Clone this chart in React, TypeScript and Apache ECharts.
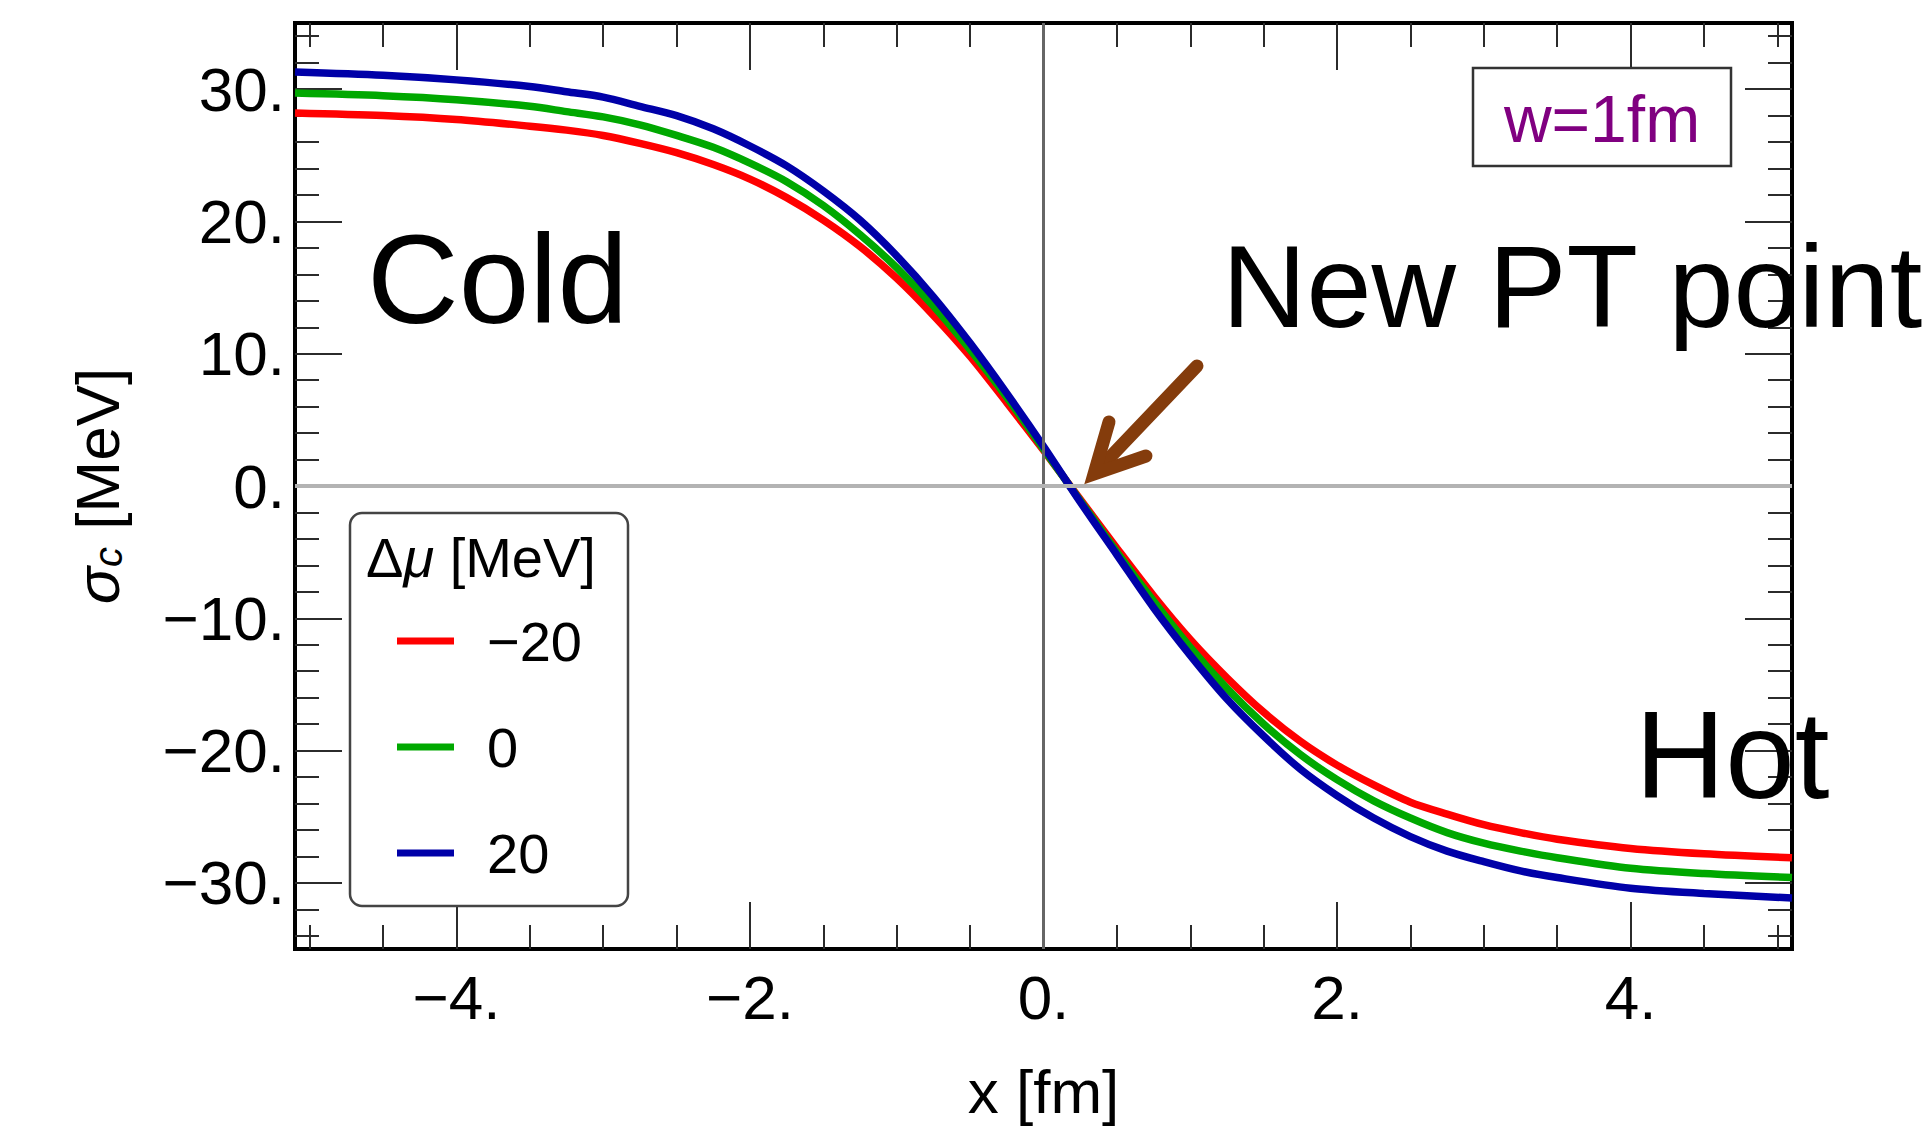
import React, { useEffect, useRef } from 'react';
import * as echarts from 'echarts';

// x positions [fm]
const X_FM = [-5.1, -4.5, -4, -3.5, -3.25, -3, -2.75, -2.5, -2.25, -2, -1.75, -1.5, -1.25, -1, -0.75, -0.5, -0.25, 0, 0.25, 0.5, 0.75, 1, 1.25, 1.5, 1.75, 2, 2.25, 2.5, 2.75, 3, 3.25, 3.5, 4, 4.5, 5.1];
// sigma_c [MeV] for each delta-mu
const SIGMA_DMU_M20 = [28.2, 28.0, 27.7, 27.2, 26.9, 26.5, 25.9, 25.2, 24.3, 23.2, 21.8, 20.1, 18.1, 15.7, 12.9, 9.8, 6.3, 2.7, -1.0, -4.7, -8.3, -11.6, -14.5, -17.1, -19.3, -21.1, -22.6, -23.9, -24.8, -25.6, -26.2, -26.7, -27.4, -27.8, -28.1];
const SIGMA_DMU_0 = [29.7, 29.5, 29.2, 28.7, 28.3, 27.9, 27.3, 26.5, 25.6, 24.4, 23.0, 21.2, 19.0, 16.5, 13.6, 10.3, 6.7, 2.8, -1.1, -5.0, -8.7, -12.2, -15.3, -18.0, -20.3, -22.2, -23.8, -25.1, -26.2, -27.0, -27.6, -28.1, -28.9, -29.3, -29.6];
const SIGMA_DMU_P20 = [31.3, 31.05, 30.7, 30.2, 29.8, 29.4, 28.7, 28.0, 27.0, 25.7, 24.2, 22.3, 20.1, 17.4, 14.3, 10.8, 7.0, 3.0, -1.2, -5.2, -9.2, -12.8, -16.1, -18.9, -21.4, -23.4, -25.1, -26.5, -27.6, -28.4, -29.1, -29.6, -30.4, -30.8, -31.15];

const SERIES_NAMES = ['\u221220', '0', '20'];
const SERIES_COLORS = ['#ff0000', '#00a800', '#0000a8'];

const X_MAJOR_TICKS = [-4, -2, 0, 2, 4];
const X_MINOR_TICKS = [-5, -4.5, -3.5, -3, -2.5, -1.5, -1, -0.5, 0.5, 1, 1.5, 2.5, 3, 3.5, 4.5, 5];
const Y_MAJOR_TICKS = [-30, -20, -10, 0, 10, 20, 30];
const Y_MINOR_TICKS = [-34, -32, -28, -26, -24, -22, -18, -16, -14, -12, -8, -6, -4, -2, 2, 4, 6, 8, 12, 14, 16, 18, 22, 24, 26, 28, 32, 34];

const FONT = '"Liberation Sans", Arial, Helvetica, sans-serif';
const fmt = (v: number) => (v < 0 ? '\u2212' + Math.abs(v) : String(v)) + '.';

const TICK_STYLE = { color: '#2b2b2b', width: 2 };
const ARROW_COLOR = '#843c0c';

function makeAxis(min: number, max: number, position: string, ticks: number[], len: number, extra: any = {}) {
  return {
    type: 'value',
    min,
    max,
    position,
    splitLine: { show: false },
    axisLine: { show: false, onZero: false },
    axisTick: { show: true, inside: true, length: len, lineStyle: TICK_STYLE, customValues: ticks },
    axisLabel: { show: false },
    ...extra,
  };
}

export default function App() {
  const ref = useRef<HTMLDivElement>(null);

  useEffect(() => {
    document.body.style.margin = '0';
    document.body.style.overflow = 'hidden';
    if (!ref.current) return;
    const chart = echarts.init(ref.current, null, { renderer: 'svg' });

    const curveData = [SIGMA_DMU_M20, SIGMA_DMU_0, SIGMA_DMU_P20];

    const option: any = {
      animation: false,
      backgroundColor: '#ffffff',
      grid: {
        left: 295,
        right: 133,
        top: 23,
        bottom: 181,
        show: true,
        borderColor: '#000',
        borderWidth: 4,
        backgroundColor: 'transparent',
        containLabel: false,
        outerBoundsMode: 'none',
      },
      xAxis: [
        makeAxis(-5.1, 5.1, 'bottom', X_MAJOR_TICKS, 47, {
          axisLabel: {
            show: true,
            customValues: X_MAJOR_TICKS,
            formatter: fmt,
            margin: 17,
            fontSize: 62,
            color: '#000',
            fontFamily: FONT,
          },
          name: 'x [fm]',
          nameLocation: 'middle',
          nameGap: 111,
          nameTextStyle: { fontSize: 62, color: '#000', fontFamily: FONT },
        }),
        makeAxis(-5.1, 5.1, 'bottom', X_MINOR_TICKS, 24),
        makeAxis(-5.1, 5.1, 'top', X_MAJOR_TICKS, 47),
        makeAxis(-5.1, 5.1, 'top', X_MINOR_TICKS, 24),
      ],
      yAxis: [
        makeAxis(-35, 35, 'left', Y_MAJOR_TICKS, 47, {
          axisLabel: {
            show: true,
            customValues: Y_MAJOR_TICKS,
            formatter: fmt,
            margin: 10,
            fontSize: 62,
            color: '#000',
            fontFamily: FONT,
          },
          name: '{s|\u03c3}{c|c} [MeV]',
          nameLocation: 'middle',
          nameRotate: 90,
          nameGap: 167,
          nameTextStyle: {
            fontSize: 62,
            color: '#000',
            fontFamily: FONT,
            rich: {
              s: { fontSize: 62, fontStyle: 'italic', fontFamily: FONT, color: '#000' },
              c: { fontSize: 40, fontStyle: 'italic', fontFamily: FONT, color: '#000', verticalAlign: 'bottom', lineHeight: 30 },
            },
          },
        }),
        makeAxis(-35, 35, 'left', Y_MINOR_TICKS, 24),
        makeAxis(-35, 35, 'right', Y_MAJOR_TICKS, 47),
        makeAxis(-35, 35, 'right', Y_MINOR_TICKS, 24),
      ],
      legend: {
        data: SERIES_NAMES,
        orient: 'vertical',
        left: 350,
        top: 513,
        icon: 'rect',
        itemWidth: 57,
        itemHeight: 7,
        itemGap: 46,
        padding: [98, 46, 23, 47],
        borderColor: '#444',
        borderWidth: 2.5,
        borderRadius: 12,
        backgroundColor: '#fff',
        selectedMode: false,
        textStyle: { fontSize: 56, fontFamily: FONT, color: '#000', lineHeight: 60, padding: [0, 0, 0, 28] },
      },
      series: [
        {
          type: 'line',
          name: 'axes0',
          data: [[0, 0]],
          symbol: 'none',
          lineStyle: { opacity: 0 },
          silent: true,
          z: 1,
          markLine: {
            silent: true,
            symbol: ['none', 'none'],
            label: { show: false },
            data: [
              { xAxis: 0, lineStyle: { color: '#666', width: 3, type: 'solid' } },
              { yAxis: 0, lineStyle: { color: '#b3b3b3', width: 4, type: 'solid' } },
            ],
          },
        },
        ...SERIES_NAMES.map((name, i) => ({
          type: 'line',
          name,
          data: X_FM.map((x, j) => [x, curveData[i][j]]),
          symbol: 'none',
          smooth: 0.3,
          clip: true,
          z: 3,
          lineStyle: { color: SERIES_COLORS[i], width: 7.5 },
          itemStyle: { color: SERIES_COLORS[i] },
        })),
      ],
      graphic: [
        {
          type: 'text',
          x: 366,
          y: 557,
          z: 20,
          style: {
            text: '{r|\u0394}{i|\u03bc}{r| [MeV]}',
            align: 'left',
            verticalAlign: 'middle',
            rich: {
              r: { fontSize: 56, fontFamily: FONT, fill: '#000' },
              i: { fontSize: 56, fontFamily: FONT, fontStyle: 'italic', fill: '#000' },
            },
          },
        },
        {
          type: 'text',
          x: 367,
          y: 279,
          z: 20,
          style: { text: 'Cold', fontSize: 127, fontFamily: FONT, fill: '#000', align: 'left', verticalAlign: 'middle' },
        },
        {
          type: 'text',
          x: 1635,
          y: 754,
          z: 20,
          style: { text: 'Hot', fontSize: 125, fontFamily: FONT, fill: '#000', align: 'left', verticalAlign: 'middle' },
        },
        {
          type: 'text',
          x: 1222,
          y: 286,
          z: 20,
          style: { text: 'New PT point', fontSize: 117, fontFamily: FONT, fill: '#000', align: 'left', verticalAlign: 'middle' },
        },
        {
          type: 'rect',
          z: 20,
          shape: { x: 1473, y: 68, width: 258, height: 98 },
          style: { fill: '#fff', stroke: '#333', lineWidth: 2.5 },
        },
        {
          type: 'text',
          x: 1602,
          y: 119,
          z: 21,
          style: { text: 'w=1fm', fontSize: 66, fontFamily: FONT, fill: '#800080', align: 'center', verticalAlign: 'middle' },
        },
        {
          type: 'line',
          z: 20,
          shape: { x1: 1197, y1: 366, x2: 1096, y2: 472 },
          style: { stroke: ARROW_COLOR, lineWidth: 13, lineCap: 'round' },
        },
        {
          type: 'polyline',
          z: 20,
          shape: { points: [[1109, 422], [1094, 474], [1146, 456]] },
          style: { stroke: ARROW_COLOR, lineWidth: 13, lineCap: 'round', lineJoin: 'miter', fill: 'none' },
        },
      ],
    };

    chart.setOption(option);
    return () => chart.dispose();
  }, []);

  return <div ref={ref} style={{ position: 'fixed', left: 0, top: 0, width: 1925, height: 1130 }} />;
}
